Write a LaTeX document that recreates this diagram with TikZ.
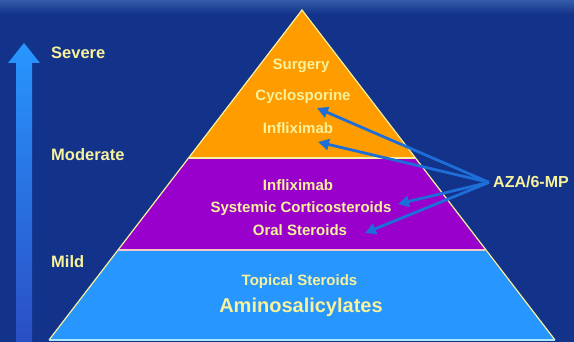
\documentclass[tikz,border=0pt]{standalone}
\usepackage{fontspec}
\setmainfont{Liberation Sans}
\usetikzlibrary{arrows.meta}
\definecolor{bg}{RGB}{19,50,138}
\definecolor{bgtop}{RGB}{52,92,168}
\definecolor{tierorange}{RGB}{255,156,0}
\definecolor{tierpurple}{RGB}{154,0,204}
\definecolor{tierblue}{RGB}{40,150,255}
\definecolor{arrowdark}{RGB}{42,78,196}
\definecolor{labelyellow}{RGB}{247,242,155}
\definecolor{edgepink}{RGB}{240,200,200}
\definecolor{edgecyan}{RGB}{170,230,255}
\definecolor{pointerblue}{RGB}{30,110,215}

\begin{document}
\begin{tikzpicture}[x=1pt, y=-1pt,
    lbl/.style={text=labelyellow, font=\bfseries\fontsize{15}{17}\selectfont, inner sep=0pt, anchor=base},
    side/.style={text=labelyellow, font=\bfseries\fontsize{16.5}{18}\selectfont, inner sep=0pt, anchor=base west},
    aza arrow/.style={draw=pointerblue, line width=2.8pt, -{Triangle[length=11pt,width=11pt]}}]
    \useasboundingbox (0,0) rectangle (574,342);

    % background
    \fill[bg] (0,0) rectangle (574,342);
    \shade[top color=bgtop, bottom color=bg] (0,0) rectangle (574,14);

    % severity arrow
    \shade[top color=tierblue, bottom color=arrowdark]
        (16,342) -- (16,63) -- (8,63) -- (24,43) -- (40,63) -- (32,63) -- (32,342) -- cycle;
    \node[side] (severe) at (51,59) {Severe};
    \node[side] (moderate) at (51,161) {Moderate};
    \node[side] (mild) at (51,268) {Mild};

    % pyramid
    \fill[tierblue] (118,250) -- (485,250) -- (555,340) -- (49,340) -- cycle;
    \fill[tierpurple] (188.5,158) -- (415,158) -- (485,250) -- (118,250) -- cycle;
    \fill[tierorange] (302,10) -- (415,158) -- (188.5,158) -- cycle;
    \draw[labelyellow, line width=1.2pt] (49,340) -- (302,10) -- (555,340);
    \draw[labelyellow, line width=1.5pt] (188.5,158) -- (415,158);
    \draw[edgepink, line width=1.5pt] (118,250) -- (485,250);
    \draw[edgecyan, line width=1.5pt] (49,340) -- (555,340);

    \node[lbl] (surgery) at (301,70) {Surgery};
    \node[lbl] (cyclo) at (303,101) {Cyclosporine};
    \node[lbl] (inflixtop) at (298,134) {Infliximab};
    \node[lbl] (inflixmid) at (298,190.5) {Infliximab};
    \node[lbl] (systemic) at (301,213) {Systemic Corticosteroids};
    \node[lbl] (oral) at (300,236) {Oral Steroids};
    \node[lbl] (topical) at (299.5,286) {Topical Steroids};
    \node[lbl, font=\bfseries\fontsize{20}{22}\selectfont] (amino) at (301,313) {Aminosalicylates};

    % AZA/6-MP pointers
    \node[lbl, anchor=base west, inner xsep=4pt, font=\bfseries\fontsize{16}{18}\selectfont] (aza) at (489,188) {AZA/6-MP};
    \coordinate (cyclotip) at (317,108);
    \coordinate (inflixtip) at (318,142);
    \coordinate (systip) at (398,204);
    \coordinate (oraltip) at (365,233);
    \foreach \t in {cyclotip, inflixtip, systip, oraltip}
        \draw[aza arrow] (aza.west) -- (\t);
\end{tikzpicture}
\end{document}
